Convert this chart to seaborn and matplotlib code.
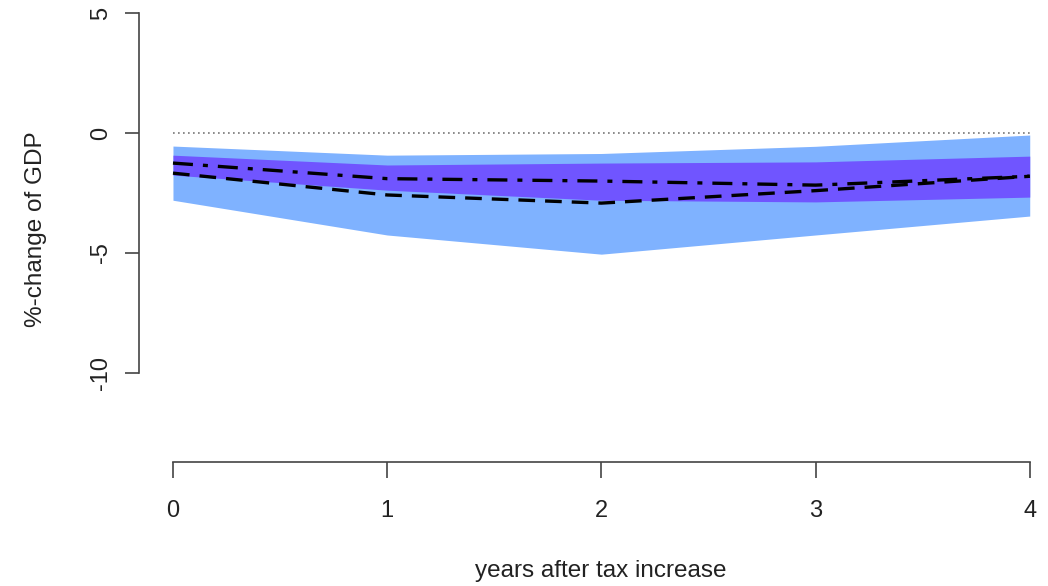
import numpy as np
import pandas as pd
import matplotlib
matplotlib.use("Agg")
import matplotlib.pyplot as plt
import seaborn as sns

years = [0, 1, 2, 3, 4]
outer_upper = [-0.54, -0.92, -0.85, -0.55, -0.08]
outer_lower = [-2.80, -4.25, -5.05, -4.25, -3.46]
inner_upper = [-0.92, -1.33, -1.25, -1.20, -0.96]
inner_lower = [-1.75, -2.38, -2.80, -2.87, -2.67]
line_dashdot = [-1.25, -1.90, -2.00, -2.17, -1.80]
line_dashed = [-1.67, -2.58, -2.92, -2.40, -1.80]
zero_line = [0, 0, 0, 0, 0]
y_ticks = [-10, -5, 0, 5]

sns.set_theme(style="white")
plt.rcParams['font.family'] = ['Liberation Sans', 'DejaVu Sans']

W, H = 1048, 586
fig = plt.figure(figsize=(W / 100, H / 100), dpi=100)
left_px, right_px, top_px, bot_px = 138.7, 1064.0, -4.0, 462.0
ax = fig.add_axes([left_px / W, (H - bot_px) / H, (right_px - left_px) / W, (bot_px - top_px) / H])
ax.set_xlim(-0.16, 4.16)
ax.set_ylim(-13.72, 5.72)

ax.fill_between(years, outer_lower, outer_upper, color="#7FB2FF", linewidth=0)
ax.fill_between(years, inner_lower, inner_upper, color="#7055FF", linewidth=0)

df = pd.DataFrame({"year": years, "dd": line_dashdot, "da": line_dashed, "z": zero_line})
sns.lineplot(data=df, x="year", y="z", ax=ax, color="#777777", linewidth=1.2,
             linestyle=(0, (1, 2)))
sns.lineplot(data=df, x="year", y="dd", ax=ax, color="black", linewidth=2.4,
             linestyle=(0, (6, 3, 1.5, 3)))
sns.lineplot(data=df, x="year", y="da", ax=ax, color="black", linewidth=2.4,
             linestyle=(0, (5, 3)))

for s in ["top", "right"]:
    ax.spines[s].set_visible(False)
ax.spines["left"].set_bounds(-10, 5)
ax.spines["bottom"].set_bounds(0, 4)
for s in ["left", "bottom"]:
    ax.spines[s].set_color("#444444")
    ax.spines[s].set_linewidth(1.2)

ax.set_xticks(years)
ax.set_xticklabels([str(v) for v in years])
ax.set_yticks(y_ticks)
ax.set_yticklabels([str(v) for v in y_ticks], rotation=90, va="center")
ax.tick_params(axis="y", length=10, width=1.2, color="#444444", pad=9,
               labelsize=17, labelcolor="#222222", left=True)
ax.tick_params(axis="x", length=11.5, width=1.2, color="#444444", pad=16,
               labelsize=17, labelcolor="#222222", bottom=True)

ax.set_xlabel("")
ax.set_ylabel("")
fig.text(601 / W, 1 - 571 / H, "years after tax increase", ha="center", va="center",
         fontsize=17.5, color="#222222")
fig.text(36 / W, 1 - 229 / H, "%-change of GDP", ha="center", va="center",
         rotation=90, fontsize=17.5, color="#222222")

fig.savefig("out.png", dpi=100)
